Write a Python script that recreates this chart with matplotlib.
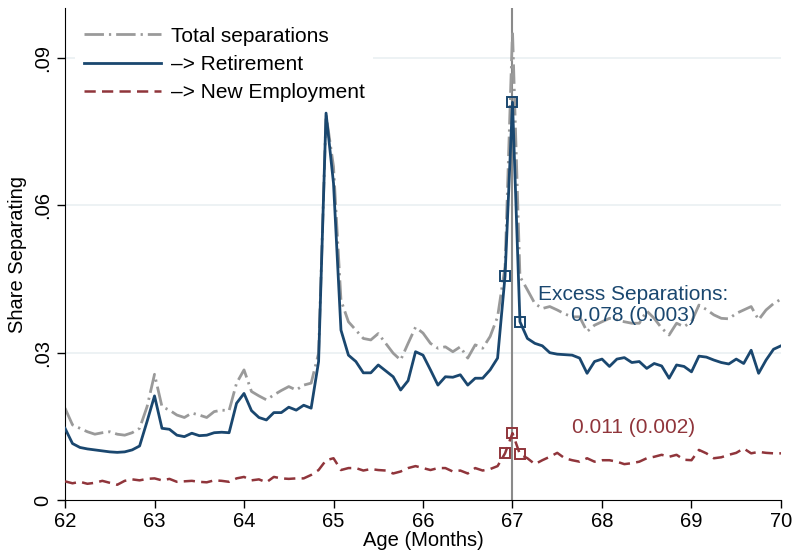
import numpy as np
import matplotlib
matplotlib.use("Agg")
import matplotlib.pyplot as plt

plt.rcParams['font.family'] = ['Liberation Sans', 'DejaVu Sans']

# age in months, 62 to 70
age = np.arange(62 * 12, 70 * 12 + 1) / 12.0

total = [0.0187, 0.0153, 0.0146, 0.0139, 0.0134, 0.0137, 0.0139, 0.0134, 0.0132, 0.0137,
         0.0146, 0.0190, 0.0256, 0.0190, 0.0183, 0.0173, 0.0168, 0.0177, 0.0173, 0.0168,
         0.0180, 0.0183, 0.0182, 0.0238, 0.0265, 0.0221, 0.0212, 0.0204, 0.0214, 0.0223,
         0.0231, 0.0224, 0.0234, 0.0238, 0.0299, 0.0785, 0.0679, 0.0407, 0.0363, 0.0346,
         0.0329, 0.0326, 0.0339, 0.0319, 0.0299, 0.0285, 0.0319, 0.0352, 0.0340, 0.0319,
         0.0309, 0.0312, 0.0302, 0.0312, 0.0289, 0.0316, 0.0309, 0.0333, 0.0373, 0.0475,
         0.0955, 0.0455, 0.0428, 0.0400, 0.0390, 0.0394, 0.0387, 0.0379, 0.0373, 0.0373,
         0.0343, 0.0356, 0.0363, 0.0370, 0.0367, 0.0363, 0.0360, 0.0360, 0.0385, 0.0370,
         0.0350, 0.0336, 0.0360, 0.0353, 0.0363, 0.0397, 0.0388, 0.0377, 0.0370, 0.0369,
         0.0380, 0.0387, 0.0394, 0.0367, 0.0387, 0.0400, 0.0409]

retirement = [0.0146, 0.0115, 0.0107, 0.0104, 0.0102, 0.0100, 0.0098, 0.0097, 0.0098, 0.0102,
              0.0110, 0.0160, 0.0212, 0.0146, 0.0144, 0.0132, 0.0129, 0.0136, 0.0131, 0.0132,
              0.0137, 0.0138, 0.0137, 0.0197, 0.0217, 0.0182, 0.0168, 0.0163, 0.0178, 0.0178,
              0.0189, 0.0183, 0.0193, 0.0187, 0.0282, 0.0788, 0.0645, 0.0346, 0.0295, 0.0282,
              0.0259, 0.0259, 0.0275, 0.0263, 0.0251, 0.0224, 0.0243, 0.0302, 0.0295, 0.0265,
              0.0234, 0.0251, 0.0250, 0.0255, 0.0234, 0.0248, 0.0248, 0.0265, 0.0289, 0.0456,
              0.0810, 0.0363, 0.0329, 0.0319, 0.0314, 0.0300, 0.0297, 0.0296, 0.0295, 0.0289,
              0.0258, 0.0282, 0.0287, 0.0272, 0.0287, 0.0290, 0.0280, 0.0282, 0.0268, 0.0278,
              0.0273, 0.0248, 0.0275, 0.0272, 0.0261, 0.0293, 0.0291, 0.0285, 0.0280, 0.0277,
              0.0287, 0.0278, 0.0305, 0.0258, 0.0285, 0.0307, 0.0314]

new_employment = [0.0038, 0.0034, 0.0037, 0.0033, 0.0035, 0.0039, 0.0035, 0.0031, 0.0039, 0.0042,
                  0.0040, 0.0043, 0.0044, 0.0040, 0.0043, 0.0037, 0.0038, 0.0039, 0.0037, 0.0036,
                  0.0040, 0.0039, 0.0037, 0.0044, 0.0047, 0.0040, 0.0042, 0.0036, 0.0047, 0.0044,
                  0.0043, 0.0044, 0.0044, 0.0051, 0.0061, 0.0081, 0.0085, 0.0061, 0.0065, 0.0065,
                  0.0060, 0.0063, 0.0061, 0.0060, 0.0054, 0.0058, 0.0065, 0.0069, 0.0065, 0.0061,
                  0.0065, 0.0065, 0.0058, 0.0060, 0.0054, 0.0065, 0.0060, 0.0063, 0.0069, 0.0095,
                  0.0136, 0.0093, 0.0085, 0.0073, 0.0081, 0.0088, 0.0096, 0.0085, 0.0081, 0.0078,
                  0.0085, 0.0078, 0.0081, 0.0081, 0.0078, 0.0073, 0.0075, 0.0078, 0.0085, 0.0088,
                  0.0092, 0.0088, 0.0092, 0.0082, 0.0081, 0.0102, 0.0095, 0.0085, 0.0087, 0.0092,
                  0.0096, 0.0105, 0.0095, 0.0098, 0.0096, 0.0095, 0.0095]

# months around the cutoff that get hollow squares
marked = [59, 60, 61]
cutoff = 67
xticks = [62, 63, 64, 65, 66, 67, 68, 69, 70]
yticks = [0, 0.03, 0.06, 0.09]
ytick_labels = ['0', '.03', '.06', '.09']

blue = '#1a476f'
red = '#90353b'
gray = '#9a9a9a'

total = np.array(total)
retirement = np.array(retirement)
new_employment = np.array(new_employment)

fig = plt.figure(figsize=(7.94, 5.54), dpi=100)
ax = fig.add_axes([0.0819, 0.0975, 0.9017, 0.888])

for y in yticks[1:]:
    ax.axhline(y, color='#eaf0f2', lw=1.2, zorder=0)

ax.plot(age, total, color=gray, lw=2.0, ls=(0, (7, 1.8, 0.8, 1.8)), label='Total separations', zorder=2)
ax.plot(age, retirement, color=blue, lw=2.0, label='–> Retirement', zorder=3)
ax.plot(age, new_employment, color=red, lw=1.8, ls=(0, (4.5, 2.5)), label='–> New Employment', zorder=3)

ax.plot(age[marked], retirement[marked], ls='none', marker='s', ms=7, mfc='none', mec=blue, mew=1.4, zorder=4)
ax.plot(age[marked], new_employment[marked], ls='none', marker='s', ms=7, mfc='none', mec=red, mew=1.4, zorder=4)

ax.axvline(cutoff, color='#8a8a8a', lw=1.5, zorder=1)

ax.text(68.35, 0.0397, 'Excess Separations:\n0.078 (0.003)', color=blue, fontsize=15,
        ha='center', va='center', linespacing=1.08)
ax.text(68.35, 0.0147, '0.011 (0.002)', color=red, fontsize=15, ha='center', va='center')

ax.set_xlim(62, 70)
ax.set_ylim(0, 0.1002)
ax.set_xticks(xticks)
ax.set_yticks(yticks)
ax.set_yticklabels(ytick_labels, rotation=90, va='center')
ax.tick_params(axis='both', labelsize=14.5, length=6, width=1, direction='out')
ax.tick_params(axis='x', pad=3)
ax.spines['top'].set_visible(False)
ax.spines['right'].set_visible(False)
ax.set_xlabel('Age (Months)', fontsize=14.5, labelpad=0)
ax.set_ylabel('Share Separating', fontsize=14.5, labelpad=4)

leg = ax.legend(loc='upper left', bbox_to_anchor=(0.0, 1.0), frameon=True, fontsize=15,
                handlelength=3.7, handletextpad=0.5, labelspacing=0.44, borderaxespad=0.5)
leg.get_frame().set_edgecolor('none')
leg.get_frame().set_facecolor('white')
leg.get_frame().set_alpha(1.0)

fig.savefig('out.png', dpi=100)
